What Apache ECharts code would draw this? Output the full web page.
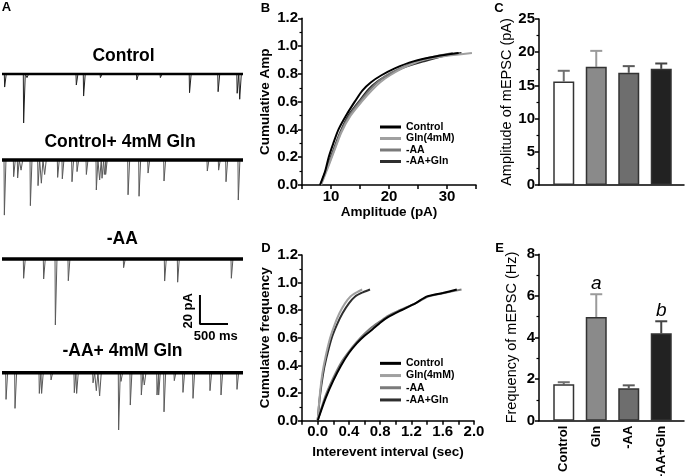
<!DOCTYPE html>
<html><head><meta charset="utf-8">
<script src="https://cdn.jsdelivr.net/npm/echarts@6/dist/echarts.min.js"></script>
<style>html,body{margin:0;padding:0;background:#fff}#c{width:685px;height:476px}</style>
</head><body><div id="c"></div>
<script>
// ---------- Panel A: recorded mEPSC events, [time (ms), amplitude (pA)] ----------
const traceTitles = ['Control', 'Control+ 4mM Gln', '-AA', '-AA+ 4mM Gln'];
const traceDurationMs = 4300;
const eventsControl = [[41,9],[380,33.8],[440,2.5],[1320,7.6],[1450,15.2],[1750,2.5],[2400,4.1],[2820,2.5],[3340,12.9],[3850,12.2],[4190,13.3],[4235,17.4]];
const eventsGln = [[36,38],[202,11.5],[273,12.4],[334,7],[500,31.5],[637,17.7],[696,16],[755,10],[987,12],[1070,13],[1243,15],[1333,8],[1499,10],[1677,20.7],[1736,13.8],[1779,12.6],[1820,10],[1843,10],[2243,24],[2439,25],[2600,9],[2885,14.5],[3657,7.6],[3859,7],[3991,15],[4210,27.6]];
const eventsAA = [[380,13.3],[737,13.8],[946,45.5],[1177,15],[2164,6],[2896,15.2],[3128,16],[4086,13.3]];
const eventsAAGln = [[66,18.4],[226,24.6],[660,14.3],[701,14.3],[869,5],[1284,13.8],[1326,14.3],[1618,7],[1677,12.4],[1736,16],[2075,39.5],[2117,6],[2283,22.3],[2480,15.4],[2533,8.5],[2760,15.4],[2789,15.4],[2885,27],[3068,5.5],[3223,13.6],[3402,17.7],[3705,12.4],[3902,15.4],[4187,11.5]];
const scaleBarAmp = 20;      // pA
const scaleBarTime = 500;    // ms

// ---------- Panel B: cumulative amplitude, [pA, fraction] ----------
const seriesNames = ['Control', 'Gln(4mM)', '-AA', '-AA+Gln'];
const ampCumControl = [[8.1,0],[9,0.1],[9.6,0.2],[10.4,0.3],[11.3,0.4],[12.6,0.5],[14.1,0.6],[15.4,0.68],[16.9,0.74],[18.7,0.79],[21,0.84],[24.2,0.89],[28,0.925],[32,0.95]];
const ampCumGln = [[8.3,0],[9.7,0.15],[10.6,0.25],[11.8,0.38],[13.4,0.5],[15.3,0.6],[17,0.68],[18.5,0.74],[20.2,0.79],[22.8,0.85],[25.9,0.9],[30,0.93],[34.3,0.95]];
const ampCumAA = [[8.2,0],[9.6,0.15],[10.6,0.26],[11.7,0.38],[13.2,0.5],[15,0.6],[16.8,0.69],[18.3,0.75],[20,0.8],[22.5,0.85],[25.5,0.9],[28.5,0.93],[31,0.95]];
const ampCumAAGln = [[8.2,0],[9.6,0.16],[10.5,0.26],[11.6,0.38],[13,0.5],[14.8,0.6],[16.5,0.69],[18,0.745],[19.8,0.79],[22.5,0.845],[26,0.89],[29.5,0.93],[32.5,0.95]];

// ---------- Panel D: cumulative inter-event interval, [sec, fraction] ----------
const iviCumControl = [[0,0],[0.1,0.16],[0.2,0.29],[0.3,0.4],[0.4,0.49],[0.5,0.56],[0.6,0.615],[0.7,0.66],[0.8,0.71],[0.9,0.75],[1.07,0.8],[1.25,0.85],[1.4,0.9],[1.6,0.925],[1.78,0.95]];
const iviCumGln = [[0,0],[0.03,0.2],[0.06,0.34],[0.1,0.46],[0.16,0.6],[0.22,0.7],[0.28,0.78],[0.35,0.85],[0.42,0.9],[0.5,0.93],[0.57,0.95]];
const iviCumAA = [[0,0],[0.1,0.18],[0.2,0.31],[0.3,0.42],[0.4,0.5],[0.5,0.57],[0.6,0.63],[0.7,0.68],[0.8,0.72],[0.9,0.76],[1.05,0.8],[1.25,0.85],[1.42,0.9],[1.62,0.925],[1.84,0.95]];
const iviCumAAGln = [[0,0],[0.03,0.18],[0.07,0.34],[0.11,0.45],[0.18,0.6],[0.25,0.7],[0.32,0.78],[0.4,0.85],[0.48,0.9],[0.58,0.93],[0.67,0.95]];

// ---------- Panels C & E: bar charts ----------
const barCategories = ['Control', 'Gln', '-AA', '-AA+Gln'];
const ampMeans = [15.6, 17.8, 16.9, 17.5];
const ampErrs = [1.6, 2.4, 1.0, 0.8];
const freqMeans = [1.75, 4.98, 1.56, 4.2];
const freqErrs = [0.1, 1.1, 0.14, 0.58];
const freqSig = ['', 'a', '', 'b'];

// ---------- styles ----------
const FONT = '"Liberation Sans", Arial, Helvetica, sans-serif';
const curveColors = ['#000000', '#a0a0a0', '#7a7a7a', '#2e2e2e'];
const barFill = ['#ffffff', '#8a8a8a', '#6e6e6e', '#222222'];
const errColors = ['#707070', '#9a9a9a', '#5a5a5a', '#444444'];

const chart = echarts.init(document.getElementById('c'));

const pxPerPA = 1.45;
const traceBaselines = [74, 160, 259, 372.7];
const traceMin = -50, traceMax = 6;
const traceEvents = [eventsControl, eventsGln, eventsAA, eventsAAGln];

function spikeData(ev) {
  const d = [[0, 0]];
  ev.slice().sort((a, b) => a[0] - b[0]).forEach(([t, a]) => {
    d.push([t, 0], [t + 6, -a], [t + 35, 0]);
  });
  d.push([traceDurationMs, 0]);
  return d;
}

const grids = [], xAxes = [], yAxes = [], series = [];
const noOuter = { outerBoundsMode: 'none', containLabel: false };

// Panel A grids 0..3
traceEvents.forEach((ev, i) => {
  grids.push(Object.assign({ left: 2, width: 241, top: traceBaselines[i] - traceMax * pxPerPA, height: (traceMax - traceMin) * pxPerPA }, noOuter));
  xAxes.push({ type: 'value', gridIndex: i, min: 0, max: traceDurationMs, show: false });
  yAxes.push({ type: 'value', gridIndex: i, min: traceMin, max: traceMax, show: false });
  series.push({ type: 'line', xAxisIndex: i, yAxisIndex: i, data: spikeData(ev), showSymbol: false, silent: true,
    lineStyle: { color: i === 0 ? '#222' : '#5a5a5a', width: 1 }, z: 2 });
  series.push({ type: 'line', xAxisIndex: i, yAxisIndex: i, data: [[0, 0], [traceDurationMs, 0]], showSymbol: false, silent: true,
    lineStyle: { color: '#000', width: i === 0 ? 2.5 : 3.5 }, z: 3 });
});
// scale bar in the -AA trace grid
const sbT0 = 3532, sbA0 = -24.8;
series.push({ type: 'line', xAxisIndex: 2, yAxisIndex: 2, showSymbol: false, silent: true,
  data: [[sbT0, sbA0], [sbT0, sbA0 - scaleBarAmp], [sbT0 + scaleBarTime, sbA0 - scaleBarAmp]],
  lineStyle: { color: '#000', width: 2 }, z: 4 });

function axisBase(o) {
  return Object.assign({
    type: 'value', splitLine: { show: false },
    axisLine: { show: true, onZero: false, lineStyle: { color: '#000', width: 1.5 } },
    axisTick: { show: true, length: 4, lineStyle: { color: '#000', width: 1.5 } },
    minorTick: { show: true, splitNumber: 2, length: 2.5, lineStyle: { color: '#000', width: 1.2 } },
    axisLabel: { color: '#000', fontWeight: 'bold', fontSize: 15, fontFamily: FONT, margin: 4 },
    nameLocation: 'middle',
    nameTextStyle: { color: '#000', fontWeight: 'bold', fontSize: 13.5, fontFamily: FONT }
  }, o);
}

// Panel B grid 4
grids.push(Object.assign({ left: 302, width: 174, top: 18.3, height: 166.7 }, noOuter));
xAxes.push(axisBase({ gridIndex: 4, min: 5, max: 35, interval: 5, name: 'Amplitude (pA)', nameGap: 12,
  minorTick: { show: false },
  axisLabel: { color: '#000', fontWeight: 'bold', fontSize: 15, fontFamily: FONT, margin: 4, formatter: v => (v % 10 === 0 ? String(v) : '') } }));
yAxes.push(axisBase({ gridIndex: 4, min: 0, max: 1.2, interval: 0.2, name: 'Cumulative Amp', nameGap: 30,
  axisLabel: { color: '#000', fontWeight: 'bold', fontSize: 15, fontFamily: FONT, margin: 4, formatter: v => v.toFixed(1) } }));
[ampCumControl, ampCumGln, ampCumAA, ampCumAAGln].forEach((d, k) => {
  series.push({ type: 'line', name: seriesNames[k], xAxisIndex: 4, yAxisIndex: 4, data: d, showSymbol: false, smooth: 0.25,
    color: curveColors[k], itemStyle: { color: curveColors[k] }, lineStyle: { color: curveColors[k], width: 2 }, z: 10 - k });
});

// Panel D grid 5
grids.push(Object.assign({ left: 302, width: 172, top: 255, height: 165.7 }, noOuter));
xAxes.push(axisBase({ gridIndex: 5, min: -0.2, max: 2.0, interval: 0.2, name: 'Interevent interval (sec)', nameGap: 25,
  minorTick: { show: false },
  axisLabel: { color: '#000', fontWeight: 'bold', fontSize: 15, fontFamily: FONT, margin: 4,
    formatter: v => { const k = Math.round(v * 10); return (k >= 0 && k % 4 === 0) ? v.toFixed(1) : ''; } } }));
yAxes.push(axisBase({ gridIndex: 5, min: 0, max: 1.2, interval: 0.2, name: 'Cumulative frequency', nameGap: 30,
  axisLabel: { color: '#000', fontWeight: 'bold', fontSize: 15, fontFamily: FONT, margin: 4, formatter: v => v.toFixed(1) } }));
[iviCumControl, iviCumGln, iviCumAA, iviCumAAGln].forEach((d, k) => {
  series.push({ type: 'line', name: seriesNames[k], xAxisIndex: 5, yAxisIndex: 5, data: d, showSymbol: false, smooth: 0.25,
    color: curveColors[k], itemStyle: { color: curveColors[k] }, lineStyle: { color: curveColors[k], width: 2 }, z: 10 - k });
});

// Bar panels: axis grid + bar grid
function barPanel(axisGridIdx, top, height, yMax, yInterval, yName, means, errs, sig, showCats) {
  grids.push(Object.assign({ left: 539, width: 145, top: top, height: height }, noOuter));
  xAxes.push({ type: 'value', gridIndex: axisGridIdx, min: 0, max: 1, splitLine: { show: false },
    axisLine: { show: true, lineStyle: { color: '#000', width: 1.5 } }, axisTick: { show: false }, axisLabel: { show: false } });
  yAxes.push(axisBase({ gridIndex: axisGridIdx, min: 0, max: yMax, interval: yInterval, name: yName, nameGap: 20,
    nameTextStyle: { color: '#000', fontWeight: 'normal', fontSize: 14.5, fontFamily: FONT } }));
  const bi = axisGridIdx + 1;
  grids.push(Object.assign({ left: 547.5, width: 130, top: top, height: height }, noOuter));
  xAxes.push({ type: 'category', gridIndex: bi, data: barCategories,
    axisLine: { show: false }, axisTick: { show: false },
    axisLabel: { show: showCats, interval: 0, rotate: 90, margin: 5, color: '#000', fontWeight: 'bold', fontSize: 13, fontFamily: FONT } });
  yAxes.push({ type: 'value', gridIndex: bi, min: 0, max: yMax, show: false });
  series.push({ type: 'custom', xAxisIndex: bi, yAxisIndex: bi, z: 1,
    data: means.map((m, i) => [i, m, errs[i]]),
    encode: { x: 0, y: 1 },
    renderItem: function (params, api) {
      const i = api.value(0), v = api.value(1), e = api.value(2);
      const p0 = api.coord([i, v]), p1 = api.coord([i, v + e]);
      const col = errColors[params.dataIndex];
      const children = [
        { type: 'line', shape: { x1: p0[0], y1: p0[1], x2: p1[0], y2: p1[1] }, style: { stroke: col, lineWidth: 2 } },
        { type: 'line', shape: { x1: p1[0] - 6, y1: p1[1], x2: p1[0] + 6, y2: p1[1] }, style: { stroke: col, lineWidth: 2 } }
      ];
      const s = sig ? sig[params.dataIndex] : '';
      if (s) children.push({ type: 'text', style: { text: s, x: p1[0], y: p1[1] - 1, align: 'center', verticalAlign: 'bottom',
        font: 'italic 19px ' + FONT, fill: '#000' } });
      return { type: 'group', children: children };
    } });
  series.push({ type: 'bar', xAxisIndex: bi, yAxisIndex: bi, barWidth: 21, z: 2,
    data: means.map((m, i) => ({ value: m, itemStyle: { color: barFill[i], borderColor: '#333', borderWidth: 1.5 } })) });
}
barPanel(6, 19, 166, 25, 5, 'Amplitude of mEPSC (pA)', ampMeans, ampErrs, null, false);
barPanel(8, 254.3, 166.4, 8, 2, 'Frequency of mEPSC (Hz)', freqMeans, freqErrs, freqSig, true);

function legendAt(top, lh) {
  return { data: seriesNames, left: 380, top: top, orient: 'vertical', icon: 'rect', itemWidth: 21, itemHeight: 3,
    itemGap: 0.5, padding: 0, selectedMode: false,
    textStyle: { color: '#000', fontWeight: 'bold', fontSize: 10.5, fontFamily: FONT, lineHeight: lh } };
}

function txt(s, x, y, font, rot) {
  return { type: 'text', x: x, y: y, rotation: rot || 0, silent: true,
    style: { text: s, align: 'center', verticalAlign: 'middle', font: font, fill: '#000' } };
}
const titleFont = 'bold 17.5px ' + FONT;
const letterFont = 'bold 13px ' + FONT;
const graphics = [
  txt(traceTitles[0], 123.5, 56, titleFont),
  txt(traceTitles[1], 120, 142.5, titleFont),
  txt(traceTitles[2], 122.3, 238.7, titleFont),
  txt(traceTitles[3], 122.5, 350.8, titleFont),
  txt(scaleBarAmp + ' pA', 188.3, 310.8, 'bold 13px ' + FONT, Math.PI / 2),
  txt(scaleBarTime + ' ms', 215.8, 336, 'bold 13px ' + FONT),
  txt('A', 6.5, 7.5, letterFont),
  txt('B', 265.5, 8.5, letterFont),
  txt('C', 499, 8.5, letterFont),
  txt('D', 266, 248, letterFont),
  txt('E', 499.5, 248, letterFont)
];

chart.setOption({
  animation: false,
  backgroundColor: '#fff',
  textStyle: { fontFamily: FONT },
  grid: grids, xAxis: xAxes, yAxis: yAxes,
  legend: [legendAt(121.5, 10.5), legendAt(357.5, 11.7)],
  graphic: graphics,
  series: series
});
</script></body></html>
